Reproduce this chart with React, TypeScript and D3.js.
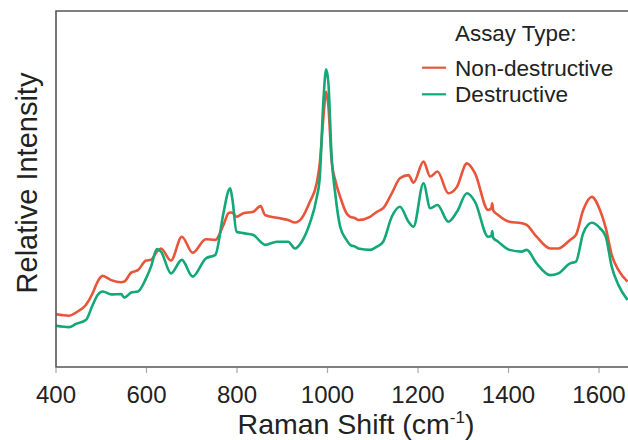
import React from "react";
import * as d3 from "d3";

const wavenumbers = [400, 429, 444, 466, 481, 492, 503, 522, 544, 551, 566, 581, 599, 610, 623, 632, 654, 678, 702, 731, 752, 770, 781, 785, 790, 799, 814, 836, 852, 862, 888, 913, 928, 943, 961, 976, 983, 991, 997, 1002, 1009, 1017, 1028, 1042, 1050, 1061, 1068, 1094, 1109, 1123, 1142, 1160, 1179, 1190, 1212, 1227, 1243, 1267, 1286, 1308, 1326, 1355, 1362, 1364, 1366, 1377, 1402, 1429, 1440, 1462, 1492, 1510, 1536, 1549, 1565, 1584, 1602, 1615, 1628, 1643, 1663];

const nonDestructive = [14.8, 14.4, 15.3, 17.4, 20.7, 24.0, 25.6, 24.4, 23.8, 24.0, 26.5, 27.2, 29.9, 30.1, 32.4, 33.3, 29.9, 36.6, 32.1, 35.9, 35.7, 39.9, 43.2, 43.4, 43.3, 42.2, 43.2, 43.6, 45.2, 42.7, 41.9, 41.3, 40.6, 41.8, 46.4, 51.6, 57.3, 70.3, 77.3, 73.1, 58.1, 52.5, 47.8, 43.2, 42.2, 41.8, 41.3, 42.2, 43.6, 44.6, 48.8, 53.0, 53.9, 51.8, 57.7, 53.5, 54.9, 48.8, 50.6, 57.2, 54.4, 44.1, 44.6, 46.0, 44.0, 42.7, 40.8, 40.4, 39.9, 36.6, 33.3, 33.3, 35.7, 37.1, 44.1, 47.8, 44.1, 39.0, 31.5, 27.2, 24.0];

const destructive = [11.6, 11.2, 12.1, 13.2, 17.4, 20.2, 21.2, 20.4, 20.5, 19.5, 20.9, 21.2, 24.9, 28.2, 33.1, 32.4, 26.3, 30.1, 25.4, 30.5, 31.5, 43.2, 49.5, 50.2, 46.9, 38.0, 37.6, 37.1, 35.2, 34.3, 35.2, 35.2, 33.3, 35.2, 40.4, 47.5, 53.5, 75.0, 83.6, 79.7, 59.1, 48.8, 39.4, 35.7, 34.3, 33.8, 33.3, 32.9, 33.8, 35.2, 42.2, 45.0, 40.8, 39.4, 51.6, 44.6, 45.5, 40.8, 43.6, 48.8, 46.4, 36.6, 36.8, 38.2, 36.3, 35.2, 32.9, 32.4, 32.9, 29.1, 25.8, 26.3, 29.1, 29.6, 37.6, 40.5, 39.0, 36.6, 28.2, 23.0, 18.8];

const xTicks = [400, 600, 800, 1000, 1200, 1400, 1600];
const seriesNames = ["Non-destructive", "Destructive"];
const seriesColors = ["#E8553A", "#12A878"];

const W = 628;
const H = 440;
const left = 56;
const right = 628;
const top = 11;
const bottom = 367;

export default function App() {
  const x = d3.scaleLinear().domain([400, 1664]).range([left, right]);
  const y = d3.scaleLinear().domain([0, 100]).range([bottom, top]);
  const line = d3
    .line<number>()
    .x((_, i) => x(wavenumbers[i]))
    .y((d) => y(d))
    .curve(d3.curveMonotoneX);
  const series = [nonDestructive, destructive];
  const font = "'Liberation Sans', Arial, Helvetica, sans-serif";
  return (
    <svg
      width={W}
      height={H}
      style={{ position: "absolute", left: 0, top: 0, background: "#fff" }}
      fontFamily={font}
    >
      {series.map((s, k) => (
        <path
          key={k}
          d={line(s) || ""}
          fill="none"
          stroke={seriesColors[k]}
          strokeWidth={2.6}
          strokeLinejoin="round"
        />
      ))}
      <path
        d={`M${right},${top}H${left}V${bottom}H${right}`}
        fill="none"
        stroke="#555"
        strokeWidth={1.6}
      />
      {xTicks.map((t) => (
        <g key={t}>
          <line x1={x(t)} x2={x(t)} y1={bottom + 1} y2={bottom + 6} stroke="#aaa" strokeWidth={1.2} />
          <text x={x(t)} y={403} textAnchor="middle" fontSize={24} fill="#222">
            {t}
          </text>
        </g>
      ))}
      <text x={356} y={434} textAnchor="middle" fontSize={28.5} fill="#222">
        Raman Shift (cm
        <tspan fontSize={17} dy={-11}>-1</tspan>
        <tspan dy={11}>)</tspan>
      </text>
      <text
        transform={`translate(37,183) rotate(-90)`}
        textAnchor="middle"
        fontSize={29}
        fill="#222"
      >
        Relative Intensity
      </text>
      <text x={455} y={41} fontSize={22.4} fill="#222">Assay Type:</text>
      {seriesNames.map((n, k) => (
        <g key={n}>
          <line
            x1={422}
            x2={446}
            y1={67.7 + k * 26.6}
            y2={67.7 + k * 26.6}
            stroke={seriesColors[k]}
            strokeWidth={2.2}
          />
          <text x={455} y={76 + k * 26.4} fontSize={22.6} fill="#222">
            {n}
          </text>
        </g>
      ))}
    </svg>
  );
}
